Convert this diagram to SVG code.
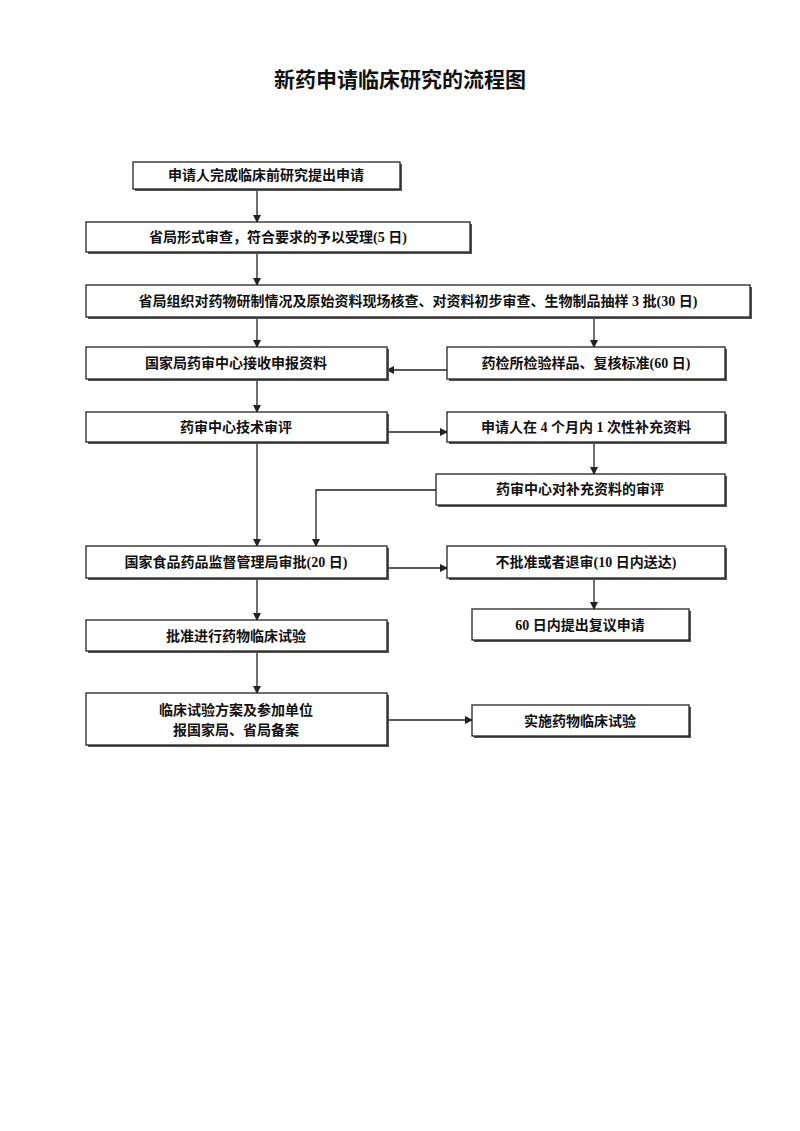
<svg xmlns="http://www.w3.org/2000/svg" width="800" height="1131" viewBox="0 0 800 1131">
<style>
.b{fill:#fff;stroke:#222;stroke-width:1.3}
.s{fill:#555}
.t{font-family:"Liberation Serif","Noto Sans CJK SC",serif;font-weight:bold;font-size:14px;fill:#111;text-anchor:middle}
.c{stroke:#222;stroke-width:1.3;fill:none}
</style>
<defs><marker id="a" markerWidth="8" markerHeight="8" refX="7" refY="4" orient="auto" markerUnits="userSpaceOnUse"><path d="M0,0 L8,4 L0,8z" fill="#222"/></marker></defs>
<rect width="800" height="1131" fill="#fff"/>
<text x="400" y="87" font-family="'Noto Sans CJK SC',sans-serif" font-size="21" font-weight="bold" text-anchor="middle" fill="#111">新药申请临床研究的流程图</text>
<g id="connectors">
<path class="c" marker-end="url(#a)" d="M257,189 V222"/>
<path class="c" marker-end="url(#a)" d="M257,252 V285"/>
<path class="c" marker-end="url(#a)" d="M257,317 V347"/>
<path class="c" marker-end="url(#a)" d="M594,317 V347"/>
<path class="c" marker-end="url(#a)" d="M447,370 H387"/>
<path class="c" marker-end="url(#a)" d="M257,379 V412"/>
<path class="c" marker-end="url(#a)" d="M387,432 H447"/>
<path class="c" marker-end="url(#a)" d="M594,442 V474"/>
<path class="c" marker-end="url(#a)" d="M257,442 V546"/>
<path class="c" marker-end="url(#a)" d="M436,490 H316 V546"/>
<path class="c" marker-end="url(#a)" d="M387,568 H447"/>
<path class="c" marker-end="url(#a)" d="M594,578 V609"/>
<path class="c" marker-end="url(#a)" d="M257,578 V620"/>
<path class="c" marker-end="url(#a)" d="M257,651 V693"/>
<path class="c" marker-end="url(#a)" d="M387,720 H472"/>
</g>
<g id="n1"><rect class="s" x="135" y="164" width="267" height="27"/><rect class="b" x="133" y="162" width="267" height="27"/><text class="t" x="266" y="180">申请人完成临床前研究提出申请</text></g>
<g id="n2"><rect class="s" x="88" y="224" width="384" height="30"/><rect class="b" x="86" y="222" width="384" height="30"/><text class="t" x="278" y="242">省局形式审查，符合要求的予以受理(5 日)</text></g>
<g id="n3"><rect class="s" x="88" y="287" width="664" height="32"/><rect class="b" x="86" y="285" width="664" height="32"/><text class="t" x="418" y="306">省局组织对药物研制情况及原始资料现场核查、对资料初步审查、生物制品抽样 3 批(30 日)</text></g>
<g id="n4"><rect class="s" x="88" y="349" width="301" height="32"/><rect class="b" x="86" y="347" width="301" height="32"/><text class="t" x="236" y="368">国家局药审中心接收申报资料</text></g>
<g id="n5"><rect class="s" x="449" y="349" width="278" height="32"/><rect class="b" x="447" y="347" width="278" height="32"/><text class="t" x="586" y="368">药检所检验样品、复核标准(60 日)</text></g>
<g id="n6"><rect class="s" x="88" y="414" width="301" height="30"/><rect class="b" x="86" y="412" width="301" height="30"/><text class="t" x="236" y="432">药审中心技术审评</text></g>
<g id="n7"><rect class="s" x="449" y="414" width="278" height="30"/><rect class="b" x="447" y="412" width="278" height="30"/><text class="t" x="586" y="432">申请人在 4 个月内 1 次性补充资料</text></g>
<g id="n8"><rect class="s" x="438" y="476" width="289" height="31"/><rect class="b" x="436" y="474" width="289" height="31"/><text class="t" x="580" y="494">药审中心对补充资料的审评</text></g>
<g id="n9"><rect class="s" x="88" y="548" width="301" height="32"/><rect class="b" x="86" y="546" width="301" height="32"/><text class="t" x="236" y="567">国家食品药品监督管理局审批(20 日)</text></g>
<g id="n10"><rect class="s" x="449" y="548" width="278" height="32"/><rect class="b" x="447" y="546" width="278" height="32"/><text class="t" x="586" y="567">不批准或者退审(10 日内送达)</text></g>
<g id="n11"><rect class="s" x="474" y="611" width="217" height="31"/><rect class="b" x="472" y="609" width="217" height="31"/><text class="t" x="580" y="630">60 日内提出复议申请</text></g>
<g id="n12"><rect class="s" x="88" y="622" width="301" height="31"/><rect class="b" x="86" y="620" width="301" height="31"/><text class="t" x="236" y="641">批准进行药物临床试验</text></g>
<g id="n13"><rect class="s" x="88" y="695" width="301" height="52"/><rect class="b" x="86" y="693" width="301" height="52"/><text class="t" x="236" y="715">临床试验方案及参加单位</text><text class="t" x="236" y="735">报国家局、省局备案</text></g>
<g id="n14"><rect class="s" x="474" y="707" width="217" height="31"/><rect class="b" x="472" y="705" width="217" height="31"/><text class="t" x="580" y="726">实施药物临床试验</text></g>
</svg>
